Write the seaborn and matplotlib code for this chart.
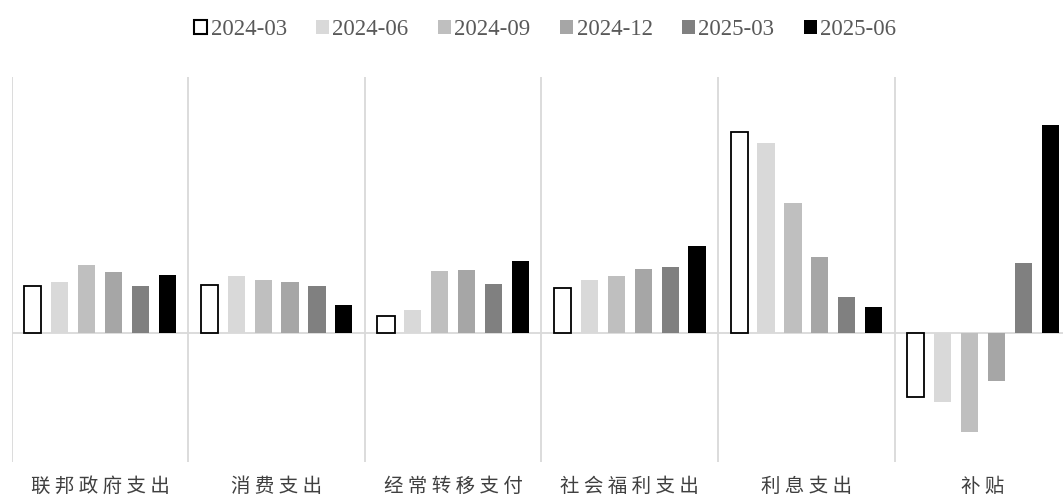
import numpy as np
import pandas as pd
import seaborn as sns
import matplotlib.pyplot as plt
from matplotlib.patches import Patch

categories = ["联邦政府支出", "消费支出", "经常转移支付", "社会福利支出", "利息支出", "补贴"]
periods = ["2024-03", "2024-06", "2024-09", "2024-12", "2025-03", "2025-06"]

v_2024_03 = [4.76, 4.87, 1.73, 4.57, 20.13, -6.34]
v_2024_06 = [5.13, 5.70, 2.30, 5.30, 19.00, -6.84]
v_2024_09 = [6.83, 5.37, 6.27, 5.70, 13.03, -9.84]
v_2024_12 = [6.16, 5.17, 6.37, 6.43, 7.67, -4.74]
v_2025_03 = [4.76, 4.73, 4.97, 6.60, 3.67, 7.00]
v_2025_06 = [5.86, 2.83, 7.27, 8.77, 2.63, 20.83]

series = [v_2024_03, v_2024_06, v_2024_09, v_2024_12, v_2025_03, v_2025_06]
colors = ["#ffffff", "#d9d9d9", "#bfbfbf", "#a6a6a6", "#808080", "#000000"]

rows = []
for p, vals in zip(periods, series):
    for c, v in zip(categories, vals):
        rows.append({"category": c, "period": p, "value": v})
df = pd.DataFrame(rows)

sns.set_theme(style="white")
plt.rcParams['font.family'] = ['Noto Sans CJK SC', 'DejaVu Sans']

fig = plt.figure(figsize=(10.63, 4.97), dpi=100)
W, H = 1063, 497
left, right, top, bottom = 11.7, 1071.3, 77.3, 461.7
ax = fig.add_axes([left / W, (H - bottom) / H, (right - left) / W, (bottom - top) / H])

sns.barplot(data=df, x="category", y="value", hue="period", order=categories,
            hue_order=periods, palette=colors, width=0.914, gap=0.36,
            linewidth=0, errorbar=None, legend=False, ax=ax, zorder=3)

for patch in ax.containers[0]:
    patch.set_edgecolor("black")
    patch.set_linewidth(1.3)
    patch.set_facecolor("white")

ax.set_xlim(-0.5, 5.5)
ax.set_ylim(-12.84, 25.6)
for s in ax.spines.values():
    s.set_visible(False)

for xb in np.arange(-0.5, 6.0, 1.0):
    ax.axvline(xb, color="#d9d9d9", lw=1.3, zorder=1)
ax.axhline(0, color="#d9d9d9", lw=1.3, zorder=2)

ax.set_yticks([])
ax.set_xticks(range(len(categories)))
ax.set_xticklabels([" ".join(list(c)) for c in categories], fontsize=14,
                   color="#404040", family=['Noto Sans CJK SC', 'DejaVu Sans'])
ax.tick_params(axis="x", length=0, pad=10)
ax.set_xlabel("")
ax.set_ylabel("")

handles = []
for p, col in zip(periods, colors):
    if col == "#ffffff":
        handles.append(Patch(facecolor="white", edgecolor="black", linewidth=1.5, label=p))
    else:
        handles.append(Patch(facecolor=col, edgecolor=col, linewidth=0, label=p))
fig.legend(handles=handles, loc="center", bbox_to_anchor=(0.513, 0.94), ncol=6,
           frameon=False, prop={"family": "Liberation Serif", "size": 16.5},
           labelcolor="#595959", handlelength=0.55, handleheight=0.55,
           handletextpad=0.15, columnspacing=1.3)

fig.savefig("out.png", dpi=100)
